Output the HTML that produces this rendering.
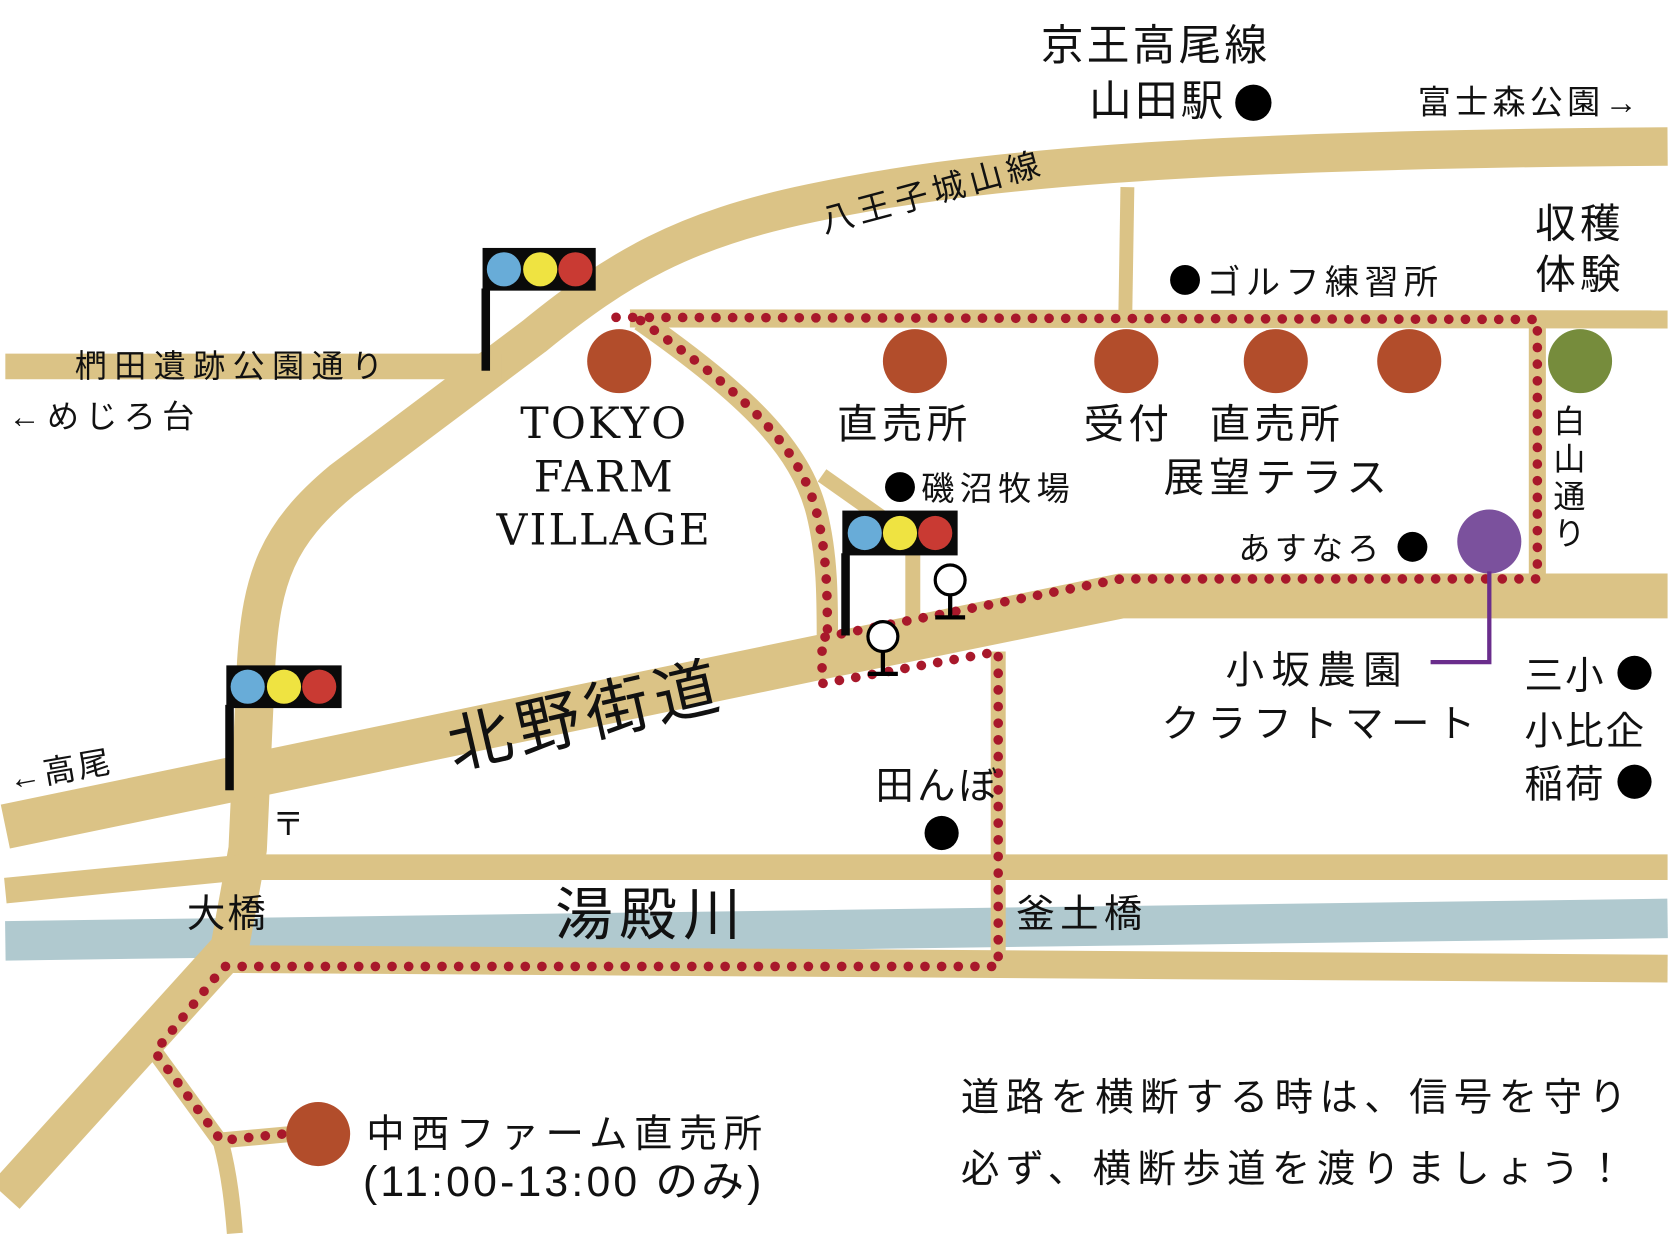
<!DOCTYPE html>
<html><head><meta charset="utf-8"><style>
html,body{margin:0;padding:0;background:#fff;}
svg{display:block}
text{font-family:"Liberation Sans","Noto Sans CJK JP",sans-serif;fill:#111;}
.serif{font-family:"DejaVu Serif","Liberation Serif",serif;}
</style></head><body>
<svg width="1674" height="1240" viewBox="0 0 1568 1161" xmlns="http://www.w3.org/2000/svg">
<rect width="1568" height="1161" fill="#fff"/>
<g fill="none" stroke="#dbc386" stroke-linejoin="round">
  <path d="M5,881 L1562,860" stroke="#b0c9cf" stroke-width="37"/>
  <path d="M5,1120 L215,888 L232,795 L240,620 C245,540 260,500 320,450 L500,315 C580,250 640,215 760,190 C900,160 1100,140 1562,137" stroke-width="36"/>
  <path d="M5,343 L470,343" stroke-width="24"/>
  <path d="M590,298 L1562,299" stroke-width="17"/>
  <path d="M1056,175 L1054,298" stroke-width="13"/>
  <path d="M1440,298 L1440,545" stroke-width="16"/>
  <path d="M5,774 L770,615 L1050,558 L1562,558" stroke-width="42"/>
  <path d="M600,300 C700,370 750,420 765,480 C775,520 775,560 775,600" stroke-width="20"/>
  <path d="M770,445 L855,505 L855,585" stroke-width="14"/>
  <path d="M935,610 L935,905" stroke-width="14"/>
  <path d="M5,834 L230,812 L1562,812" stroke-width="24"/>
  <path d="M205,898 L1562,907" stroke-width="26"/>
  <path d="M145,985 L207,1070 C215,1100 218,1130 220,1155" stroke-width="15"/>
  <path d="M207,1068 L272,1062" stroke-width="15"/>
</g>
<g fill="none" stroke="#a8182b" stroke-width="9" stroke-linecap="round" stroke-dasharray="0.1 15.5">
  <path d="M577,297 L1440,299 L1440,542 L1050,542 L770,597 L770,640 L935,610 L935,905 L210,905 L145,985 L207,1068 L265,1062"/>
  <path d="M600,300 C700,370 750,420 765,480 C775,520 775,560 775,597"/>
</g>
<g fill="#b24d2b">
  <circle cx="580" cy="338" r="30"/><circle cx="857" cy="338" r="30"/><circle cx="1055" cy="338" r="30"/>
  <circle cx="1195" cy="338" r="30"/><circle cx="1320" cy="338" r="30"/><circle cx="298" cy="1062" r="30"/>
</g>
<circle cx="1480" cy="338" r="30" fill="#768c3c"/>
<circle cx="1395" cy="507" r="30" fill="#7b519d"/>
<path d="M1395,535 L1395,620 L1340,620" stroke="#6a2d8c" stroke-width="4" fill="none"/>
<g>
  <rect x="452" y="232" width="106" height="40" fill="#0a0a0a"/><rect x="451" y="270" width="8" height="77" fill="#0a0a0a"/>
  <ellipse cx="472" cy="252" rx="16" ry="16" fill="#68acd8"/><ellipse cx="506" cy="252" rx="16" ry="16" fill="#efe341"/><ellipse cx="539" cy="252" rx="16" ry="16" fill="#c93a33"/>
  <rect x="212" y="623" width="108" height="40" fill="#0a0a0a"/><rect x="211" y="660" width="8" height="80" fill="#0a0a0a"/>
  <ellipse cx="232" cy="643" rx="16" ry="16" fill="#68acd8"/><ellipse cx="266" cy="643" rx="16" ry="16" fill="#efe341"/><ellipse cx="299" cy="643" rx="16" ry="16" fill="#c93a33"/>
  <rect x="789" y="478" width="108" height="42" fill="#0a0a0a"/><rect x="788" y="518" width="8" height="77" fill="#0a0a0a"/>
  <ellipse cx="810" cy="499" rx="16" ry="16" fill="#68acd8"/><ellipse cx="843" cy="499" rx="16" ry="16" fill="#efe341"/><ellipse cx="876" cy="499" rx="16" ry="16" fill="#c93a33"/>
</g>
<g stroke="#000" stroke-width="3" fill="#fff">
  <circle cx="890" cy="543" r="14"/><path d="M890,557 L890,577 M876,578 L904,578" stroke-width="4"/>
  <circle cx="827" cy="596" r="14"/><path d="M827,610 L827,630 M813,631 L841,631" stroke-width="4"/>
</g>
<g fill="#000">
  <circle cx="1174" cy="96" r="17"/><circle cx="1110" cy="262" r="14"/><circle cx="843" cy="456" r="14"/>
  <circle cx="1323" cy="512" r="14"/><circle cx="1531" cy="630" r="16"/><circle cx="1531" cy="732" r="16"/>
  <circle cx="882" cy="780" r="16"/>
</g>
<text x="975" y="56" font-size="40" letter-spacing="3">京王高尾線</text>
<text x="1020" y="108" font-size="40" letter-spacing="3">山田駅</text>
<text x="1328" y="106" font-size="31" letter-spacing="4">富士森公園→</text>
<text x="1438" y="222" font-size="38" letter-spacing="4">収穫</text>
<text x="1438" y="270" font-size="38" letter-spacing="4">体験</text>
<text x="1130" y="275" font-size="32" letter-spacing="5">ゴルフ練習所</text>
<text transform="translate(772,218) rotate(-15)" font-size="31" letter-spacing="5">八王子城山線</text>
<text x="70" y="353" font-size="30" letter-spacing="7">椚田遺跡公園通り</text>
<text x="8" y="400" font-size="30" letter-spacing="6">←めじろ台</text>
<text class="serif" x="566" y="410" font-size="40" text-anchor="middle" letter-spacing="2">TOKYO</text>
<text class="serif" x="566" y="460" font-size="40" text-anchor="middle" letter-spacing="2">FARM</text>
<text class="serif" x="566" y="510" font-size="40" text-anchor="middle" letter-spacing="2">VILLAGE</text>
<text x="784" y="410" font-size="38" letter-spacing="4">直売所</text>
<text x="1015" y="410" font-size="38" letter-spacing="4">受付</text>
<text x="1133" y="410" font-size="38" letter-spacing="4">直売所</text>
<text x="1090" y="460" font-size="38" letter-spacing="5">展望テラス</text>
<text x="863" y="468" font-size="31" letter-spacing="5">磯沼牧場</text>
<text x="1160" y="524" font-size="30" letter-spacing="4">あすなろ</text>
<text x="1455" y="405" font-size="30">白</text>
<text x="1455" y="440" font-size="30">山</text>
<text x="1455" y="475" font-size="30">通</text>
<text x="1455" y="510" font-size="30">り</text>
<text x="1148" y="640" font-size="36" letter-spacing="7">小坂農園</text>
<text x="1088" y="690" font-size="36" letter-spacing="7">クラフトマート</text>
<text x="1428" y="645" font-size="36" letter-spacing="2">三小</text>
<text x="1428" y="697" font-size="36" letter-spacing="2">小比企</text>
<text x="1428" y="747" font-size="36" letter-spacing="2">稲荷</text>
<text transform="translate(425,720) rotate(-13)" font-size="60" letter-spacing="6">北野街道</text>
<text transform="translate(10,740) rotate(-10)" font-size="30" letter-spacing="3">←高尾</text>
<text x="255" y="782" font-size="30">〒</text>
<text x="820" y="748" font-size="36" letter-spacing="3">田んぼ</text>
<text x="175" y="868" font-size="36" letter-spacing="2">大橋</text>
<text x="520" y="875" font-size="54" letter-spacing="6">湯殿川</text>
<text x="952" y="868" font-size="36" letter-spacing="5">釜土橋</text>
<text x="343" y="1074" font-size="36" letter-spacing="6">中西ファーム直売所</text>
<text x="340" y="1120" font-size="40" letter-spacing="3">(11:00-13:00 のみ)</text>
<text x="900" y="1040" font-size="36" letter-spacing="6">道路を横断する時は、信号を守り</text>
<text x="900" y="1107" font-size="36" letter-spacing="6">必ず、横断歩道を渡りましょう！</text>
</svg>
</body></html>
